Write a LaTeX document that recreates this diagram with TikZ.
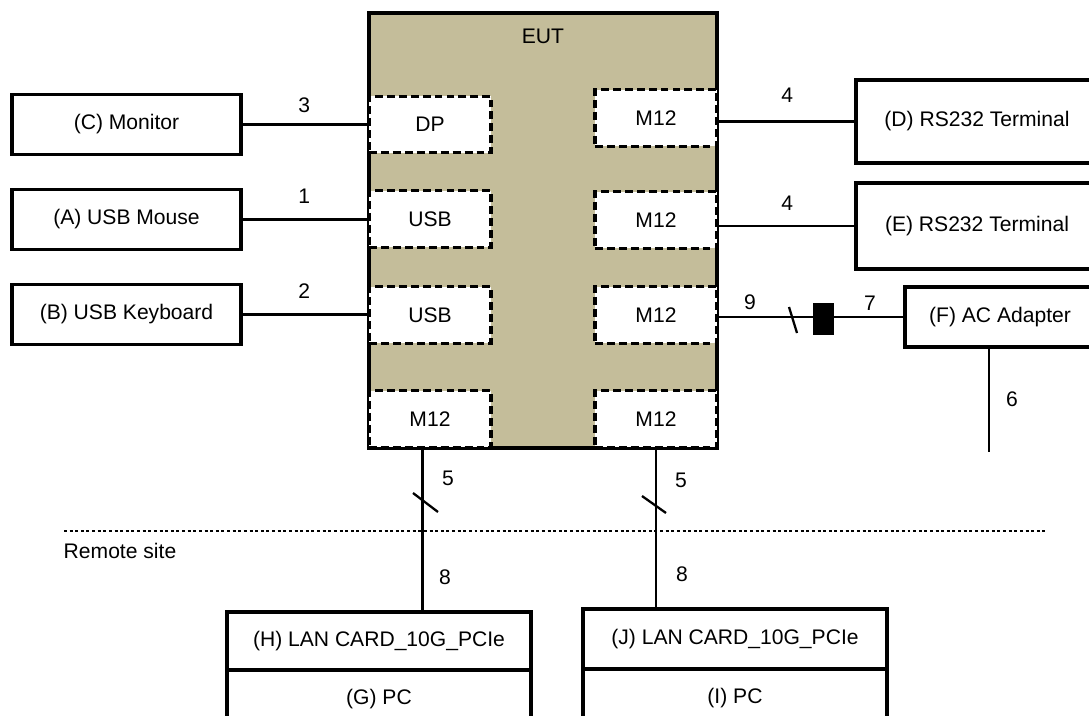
\documentclass[tikz,border=0pt]{standalone}
\usepackage{fontspec}
\setmainfont{Liberation Sans}
\usetikzlibrary{positioning, calc}
\definecolor{eutbeige}{RGB}{196, 189, 154}
\newcommand{\labelfont}{\fontsize{12}{14}\selectfont}

\begin{document}
\begin{tikzpicture}[
    box/.style={draw=black, line width=2pt, fill=white, inner sep=0pt, outer sep=0pt, font=\labelfont},
    port/.style={draw=black, line width=1.9pt, fill=white, dash pattern=on 4.5pt off 2.3pt,
        minimum width=2.44cm, minimum height=1.13cm, inner sep=0pt, font=\labelfont},
    conn/.style={line width=1.3pt, black},
    num/.style={font=\labelfont},
]
\useasboundingbox (0,0) rectangle (21.78,-14.32);

% ===== EUT =====
\node[draw=black, line width=2pt, fill=eutbeige, minimum width=6.96cm, minimum height=8.70cm] (eut) at (10.86,-4.61) {};
\node[font=\labelfont] (eutlabel) at ($(eut.north)+(0,-0.5)$) {EUT};

% ports links
\node[port] (dp) at (8.60,-2.49) {DP};
\node[port] (usbA) at (8.60,-4.38) {USB};
\node[port] (usbB) at (8.60,-6.30) {USB};
\node[port] (m12L) at (8.60,-8.38) {M12};

% ports rechts
\node[port] (m12D) at (13.12,-2.36) {M12};
\node[port] (m12E) at (13.12,-4.40) {M12};
\node[port] (m12F) at (13.12,-6.30) {M12};
\node[port] (m12R) at (13.12,-8.38) {M12};

% ===== Geraete links =====
\node[box, minimum width=4.58cm, minimum height=1.2cm] (monitor) at (2.53,-2.49) {(C) Monitor};
\node[box, minimum width=4.58cm, minimum height=1.2cm, below=0.7cm of monitor] (mouse) {(A) USB Mouse};
\node[box, minimum width=4.58cm, minimum height=1.2cm, below=0.7cm of mouse] (keyboard) {(B) USB Keyboard};

\draw[conn] (monitor.east) -- (monitor.east -| dp.west) node[num, midway, above=3pt] {3};
\draw[conn] (mouse.east) -- (mouse.east -| usbA.west) node[num, midway, above=5pt] {1};
\draw[conn] (keyboard.east) -- (keyboard.east -| usbB.west) node[num, midway, above=5pt] {2};

% ===== Geraete rechts =====
\node[box, minimum width=4.84cm, minimum height=1.66cm] (termD) at (19.54,-2.43) {(D) RS232 Terminal};
\node[box, minimum width=4.84cm, minimum height=1.72cm] (termE) at (19.54,-4.52) {(E) RS232 Terminal};
\node[box, minimum width=3.8cm, minimum height=1.2cm] (acF) at (20.0,-6.34) {(F) AC Adapter};

\draw[conn] (m12D.east |- termD.west) -- (termD.west) node[num, midway, above=7pt] {4};
\draw[conn] (m12E.east |- termE.west) -- (termE.west) node[num, midway, above=5pt] {4};

% Netzteil mit Stecker
\draw[conn] (m12F.east |- acF.west) -- (acF.west);
\node[fill=black, minimum width=0.42cm, minimum height=0.64cm, inner sep=0pt] (plug) at (16.47,-6.38) {};
\draw[conn] (15.78,-6.14) -- (15.94,-6.66);
\node[num] at (15.0,-6.04) {9};
\node[num] at (17.4,-6.06) {7};

\coordinate (acEnd) at (19.78,-9.04);
\draw[conn] (acEnd |- acF.south) -- (acEnd) node[num, midway, right=0.2cm] {6};

% ===== Remote site =====
\draw[line width=1.6pt, dash pattern=on 1.7pt off 1.5pt] (1.28,-10.62) -- (20.94,-10.62);
\node[font=\labelfont] (remote) at (2.4,-11.02) {Remote site};

\node[box, minimum width=6.08cm, minimum height=1.16cm] (lanH) at (7.58,-12.82) {(H) LAN CARD\_10G\_PCIe};
\node[box, minimum width=6.08cm, minimum height=1.16cm, below=0pt of lanH] (pcG) {(G) PC};
\node[box, minimum width=6.08cm, minimum height=1.2cm] (lanJ) at (14.7,-12.78) {(J) LAN CARD\_10G\_PCIe};
\node[box, minimum width=6.08cm, minimum height=1.16cm, below=0pt of lanJ] (pcI) {(I) PC};

\draw[conn] ([xshift=-1.5mm]m12L.south) -- ([xshift=-1.5mm]m12L.south |- lanH.north);
\draw[conn] (m12R.south) -- (m12R.south |- lanJ.north);

% Schraegstriche
\draw[conn] (8.26,-9.86) -- (8.76,-10.24);
\draw[conn] (12.84,-9.92) -- (13.32,-10.26);

\node[num] at (8.96,-9.56) {5};
\node[num] at (8.9,-11.54) {8};
\node[num] at (13.62,-9.6) {5};
\node[num] at (13.64,-11.48) {8};

\end{tikzpicture}
\end{document}
